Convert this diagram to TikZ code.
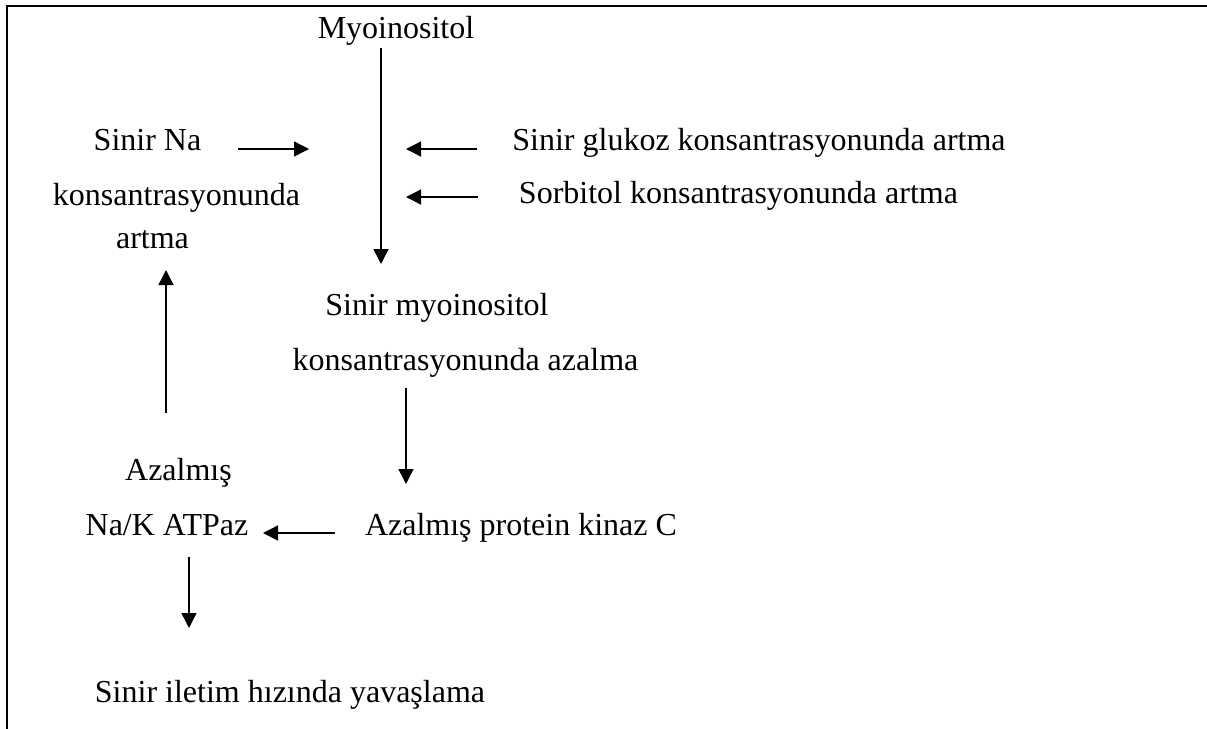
\documentclass[tikz,border=0pt]{standalone}
\usepackage{fontspec}
\setmainfont{Liberation Serif}
\usetikzlibrary{arrows.meta,calc,positioning}

\begin{document}
\begin{tikzpicture}[
    x=0.5pt, y=-0.5pt,
    >={Triangle[length=7.5pt,width=7.5pt]}, font=\fontsize{16}{19}\selectfont,
    % Styles
    textNode/.style={inner sep=0pt, anchor=base, text height=11pt, text depth=3.5pt},
    flowArrow/.style={->, line width=0.7pt},
    frameLine/.style={line width=1pt}
]
\useasboundingbox (0,0) rectangle (1207,729);

% ================= FRAME =================
\draw[frameLine] (7,729) -- (7,6) -- (1207,6);

% ================= TOP: MYOINOSITOL =================
\node[textNode] (myo) at (396,38) {Myoinositol};

% ================= LEFT COLUMN =================
\node[textNode] (na1) at (147.5,150) {Sinir Na};
\node[textNode] (na2) at (176.5,205) {konsantrasyonunda};
\node[textNode] (na3) at (152.5,248) {artma};

\node[textNode] (az1) at (178.5,480) {Azalmış};
\node[textNode] (az2) at (167,535) {Na/K ATPaz};

\node[textNode] (sil) at (290,702) {Sinir iletim hızında yavaşlama};

% ================= RIGHT SIDE: CAUSES =================
\node[textNode] (glu) at (759,150) {Sinir glukoz konsantrasyonunda artma};
\node[textNode] (sor) at (738.5,203) {Sorbitol konsantrasyonunda artma};

% ================= MIDDLE =================
\node[textNode] (smi1) at (437,315) {Sinir myoinositol};
\node[textNode] (smi2) at (465.5,370) {konsantrasyonunda azalma};
\node[textNode] (pkc) at (521,535) {Azalmış protein kinaz C};

% ================= ARROW TIPS =================
\coordinate (tMyo) at (381,264);
\coordinate (tNa) at (309,149);
\coordinate (tGlu) at (406,149);
\coordinate (tSor) at (406,197);
\coordinate (tPkc) at (406,484);
\coordinate (tAz) at (263,533);
\coordinate (tNa3) at (166,270);
\coordinate (tSil) at (189,628);

% ================= ARROWS =================
% Myoinositol down
\draw[flowArrow, shorten <=1.5pt] (tMyo |- myo.south) -- (tMyo);

% Into the main line
\draw[flowArrow, shorten <=18pt] (na1.east |- tNa) -- (tNa);
\draw[flowArrow, shorten <=17.25pt] (glu.west |- tGlu) -- (tGlu);
\draw[flowArrow, shorten <=20.5pt] (sor.west |- tSor) -- (tSor);

% Myoinositol decrease to protein kinase C
\draw[flowArrow, shorten <=5.5pt] (tPkc |- smi2.south) -- (tPkc);

% Protein kinase C to Na/K ATPaz
\draw[flowArrow, shorten <=15pt] (pkc.west |- tAz) -- (tAz);

% Na/K ATPaz up and down
\draw[flowArrow, shorten <=22.5pt] (tNa3 |- az1.north) -- (tNa3);
\draw[flowArrow, shorten <=7.5pt] (tSil |- az2.south) -- (tSil);

\end{tikzpicture}
\end{document}
